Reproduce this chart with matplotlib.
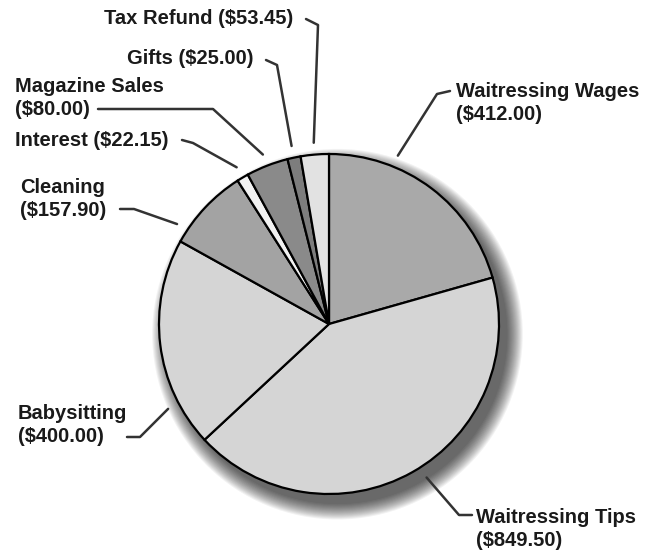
import numpy as np
import matplotlib.pyplot as plt
from matplotlib.patches import Circle

# data (dollars)
categories = ["Waitressing Wages", "Waitressing Tips", "Babysitting", "Cleaning",
              "Interest", "Magazine Sales", "Gifts", "Tax Refund"]
amounts = [412.00, 849.50, 400.00, 157.90, 22.15, 80.00, 25.00, 53.45]
colors = ["#a9a9a9", "#d5d5d5", "#d5d5d5", "#a3a3a3",
          "#f2f2f2", "#8a8a8a", "#7d7d7d", "#e2e2e2"]

# label layout in pixels: text position, leader elbow points,
# and where along the wedge (0..1) the leader touches it
layout = {
    "Waitressing Wages": dict(pos=(456, 103), elbow=[(450, 91), (437, 94)], frac=0.30),
    "Waitressing Tips": dict(pos=(476, 529), elbow=[(472, 515), (459, 515)], frac=0.48),
    "Babysitting": dict(pos=(18, 425), elbow=[(127, 437), (140, 437)], frac=0.21),
    "Cleaning": dict(pos=(20, 199), elbow=[(120, 209), (134, 209)], frac=0.15),
    "Interest": dict(pos=(15, 140), elbow=[(182, 140), (193, 143)], frac=0.5),
    "Magazine Sales": dict(pos=(15, 98), elbow=[(98, 109), (213, 109)], frac=0.5),
    "Gifts": dict(pos=(127, 58), elbow=[(266, 60), (277, 65)], frac=0.5),
    "Tax Refund": dict(pos=(104, 18), elbow=[(306, 19), (318, 25)], frac=0.5),
}
two_line = {"Waitressing Wages", "Waitressing Tips", "Babysitting", "Cleaning", "Magazine Sales"}

W, H = 661, 552
CX, CY, R = 329, 324, 170


def px(x, y):
    return (x - CX) / R, (CY - y) / R


fig = plt.figure(figsize=(W / 100, H / 100), dpi=100)
ax = fig.add_axes([0, 0, 1, 1])

# soft drop shadow
for k in range(16):
    ax.add_patch(Circle((0.05, -0.06), 1.0 + k * 0.006, color="black",
                        alpha=0.05, lw=0, zorder=0))

wedges, _ = ax.pie(amounts, colors=colors, startangle=90, counterclock=False,
                   radius=1.0, center=(0, 0), frame=True,
                   wedgeprops=dict(edgecolor="black", linewidth=1.6, zorder=2))
ax.set_xlim(-CX / R, (W - CX) / R)
ax.set_ylim(-(H - CY) / R, CY / R)
ax.set_aspect("equal")
ax.axis("off")

font = dict(family=["Liberation Sans", "DejaVu Sans"], fontweight="bold",
            fontsize=14.5, color="#1a1a1a")

for w, name, amt in zip(wedges, categories, amounts):
    lay = layout[name]
    sep = "\n" if name in two_line else " "
    text = f"{name}{sep}(${amt:,.2f})"
    tx, ty = px(*lay["pos"])
    ax.text(tx, ty, text, ha="left", va="center", linespacing=1.25, **font)
    # wedges run clockwise: theta2 is the starting edge
    ang = np.deg2rad(w.theta2 - lay["frac"] * (w.theta2 - w.theta1))
    anchor = (1.07 * np.cos(ang), 1.07 * np.sin(ang))
    pts = [px(*p) for p in lay["elbow"]] + [anchor]
    xs, ys = zip(*pts)
    ax.plot(xs, ys, color="#333333", lw=1.8, solid_capstyle="round", zorder=3)

fig.savefig("out.png", dpi=100, facecolor="white")
